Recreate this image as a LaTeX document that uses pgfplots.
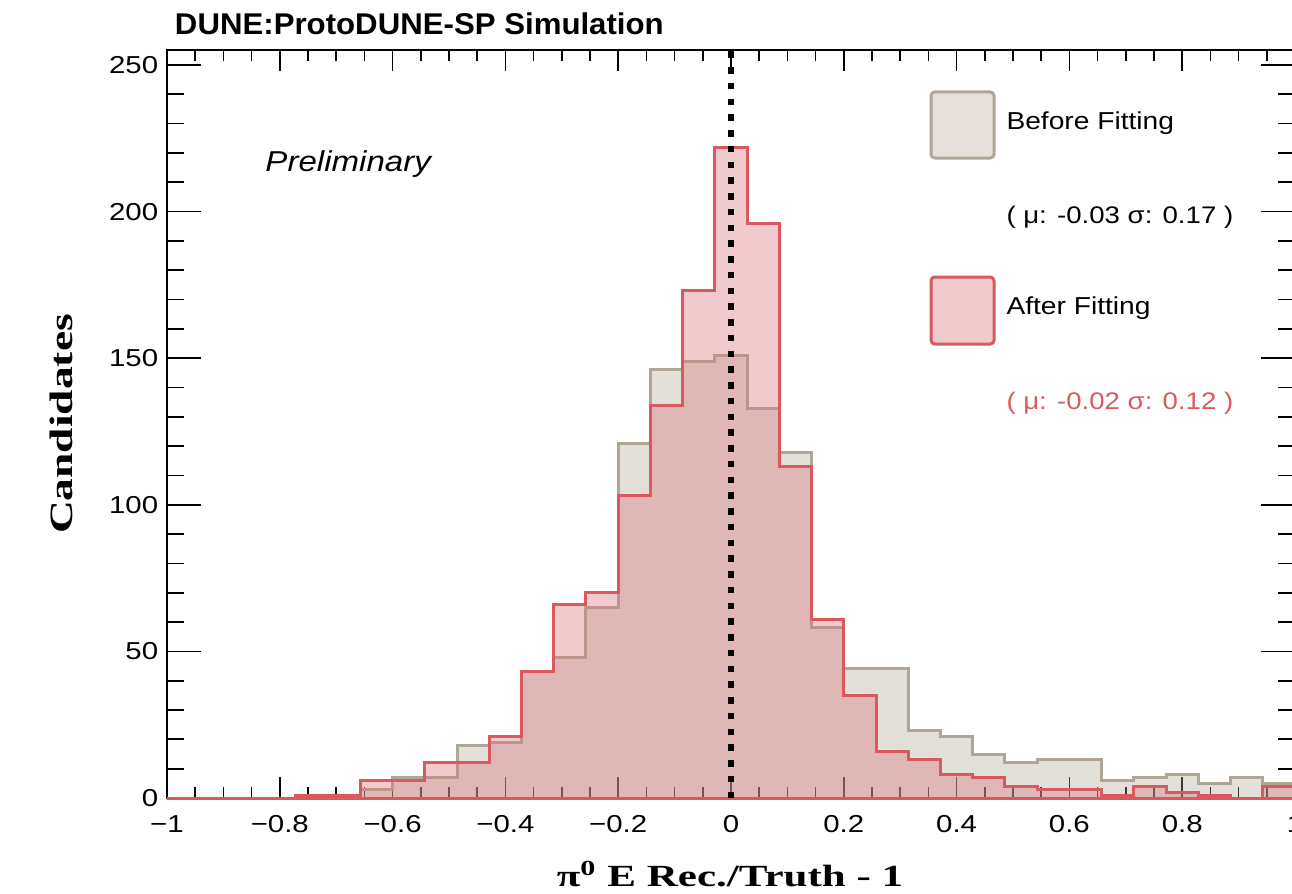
\documentclass[border=0pt]{standalone}
\usepackage{pgfplots}
\usepackage{pgfplotstable}
\pgfplotsset{compat=1.18}
\usepackage{fontspec}
\setmainfont{Liberation Sans}[FakeStretch=1.15]
\newfontfamily\titlefont{Liberation Sans}[FakeStretch=1.04]
\newfontfamily\tickfont{Liberation Sans}[FakeStretch=1.2]
\newfontfamily\labfont{Liberation Serif}[FakeStretch=1.4]

\definecolor{greyline}{RGB}{176,166,150}
\definecolor{greylegfill}{RGB}{229,224,219}
\definecolor{redline}{RGB}{217,89,94}
\definecolor{redfillc}{RGB}{217,122,128}
\definecolor{redlegfill}{RGB}{240,202,205}

\pgfplotstableread{
x y
-1.0000 0
-0.9429 0
-0.8857 0
-0.8286 0
-0.7714 1
-0.7143 1
-0.6571 3
-0.6000 7
-0.5429 7
-0.4857 18
-0.4286 19
-0.3714 43
-0.3143 48
-0.2571 65
-0.2000 121
-0.1429 146
-0.0857 149
-0.0286 151
0.0286 133
0.0857 118
0.1429 58
0.2000 44
0.2571 44
0.3143 23
0.3714 21
0.4286 15
0.4857 12
0.5429 13
0.6000 13
0.6571 6
0.7143 7
0.7714 8
0.8286 5
0.8857 7
0.9429 5
1.0000 5
}\before

\pgfplotstableread{
x y
-1.0000 0
-0.9429 0
-0.8857 0
-0.8286 0
-0.7714 1
-0.7143 1
-0.6571 6
-0.6000 6
-0.5429 12
-0.4857 12
-0.4286 21
-0.3714 43
-0.3143 66
-0.2571 70
-0.2000 103
-0.1429 134
-0.0857 173
-0.0286 222
0.0286 196
0.0857 113
0.1429 61
0.2000 35
0.2571 16
0.3143 13
0.3714 8
0.4286 7
0.4857 4
0.5429 3
0.6000 3
0.6571 1
0.7143 4
0.7714 2
0.8286 1
0.8857 0
0.9429 4
1.0000 4
}\after

\begin{document}
\begin{tikzpicture}
% y ticks and frame (drawn first)
\begin{axis}[
  at={(0,0)}, anchor=south west,
  scale only axis, width=451.2pt, height=299.2pt,
  xmin=-1, xmax=1, ymin=0, ymax=255.1,
  xtick=\empty,
  ytick={0,50,100,150,200,250},
  yticklabels={0,50,100,150,200,250},
  minor y tick num=4,
  tick align=inside,
  major tick length=13.6pt, minor tick length=6.8pt,
  axis line style={line width=0.8pt},
  every tick/.append style={black, line width=0.7pt},
  yticklabel style={font=\tickfont\fontsize{9.8}{11}\selectfont},
]
\end{axis}
% x ticks and data
\begin{axis}[
  at={(0,0)}, anchor=south west,
  scale only axis, width=451.2pt, height=299.2pt,
  xmin=-1, xmax=1, ymin=0, ymax=255.1,
  xtick={-1,-0.8,-0.6,-0.4,-0.2,0,0.2,0.4,0.6,0.8,1},
  xticklabels={−1,−0.8,−0.6,−0.4,−0.2,0,0.2,0.4,0.6,0.8,1},
  minor x tick num=3,
  ytick=\empty,
  tick align=inside,
  major tick length=8.4pt, minor tick length=4.4pt,
  axis line style={line width=0.8pt},
  every tick/.append style={black, line width=0.7pt},
  xticklabel style={font=\tickfont\fontsize{9.8}{11}\selectfont, yshift=-3.5pt},
  clip=false,
]
\addplot[const plot, fill=greyline, fill opacity=0.35, draw=greyline, line width=1.2pt, line join=miter] table {\before} \closedcycle;
\addplot[const plot, fill=redfillc, fill opacity=0.4, draw=redline, line width=1.2pt, line join=miter] table {\after} \closedcycle;
\addplot[black, line width=2.2pt, dash pattern=on 2.6pt off 3.7pt] coordinates {(0,0) (0,255.1)};
\end{axis}
% title and annotations
\node[anchor=base west, inner sep=0pt, font=\titlefont\bfseries\fontsize{12}{14}\selectfont] at (3pt,305.2pt) {DUNE:ProtoDUNE-SP Simulation};
\node[anchor=base west, inner sep=0pt, font=\itshape\fontsize{11.5}{13}\selectfont] at (39.2pt,250.8pt) {Preliminary};
% legend
\draw[greyline, fill=greylegfill, line width=1.2pt, rounded corners=1.5pt] (305.6pt,256pt) rectangle (330.8pt,282.4pt);
\draw[redline, fill=redlegfill, line width=1.2pt, rounded corners=1.5pt] (305.6pt,181.6pt) rectangle (330.8pt,208.4pt);
\node[anchor=west, inner sep=0pt, font=\fontsize{9.8}{11}\selectfont] at (335.6pt,270pt) {Before Fitting};
\node[anchor=west, inner sep=0pt, font=\fontsize{9.6}{11}\selectfont] at (335.6pt,232.4pt) {( μ: -0.03 σ: 0.17 )};
\node[anchor=west, inner sep=0pt, font=\fontsize{9.8}{11}\selectfont] at (335.6pt,196pt) {After Fitting};
\node[anchor=west, inner sep=0pt, text=redline, font=\fontsize{9.6}{11}\selectfont] at (335.6pt,158pt) {( μ: -0.02 σ: 0.12 )};
% axis labels
\node[anchor=base, inner sep=0pt, font=\labfont\bfseries\fontsize{12.3}{14}\selectfont] at (225.2pt,-35.4pt) {π\textsuperscript{0} E Rec./Truth - 1};
\node[anchor=base, inner sep=0pt, rotate=90, font=\labfont\bfseries\fontsize{13}{15}\selectfont] at (-37.6pt,149.6pt) {Candidates};
\pgfresetboundingbox
\useasboundingbox (-66.8pt,-38pt) rectangle (450pt,319.2pt);
\end{tikzpicture}
\end{document}
